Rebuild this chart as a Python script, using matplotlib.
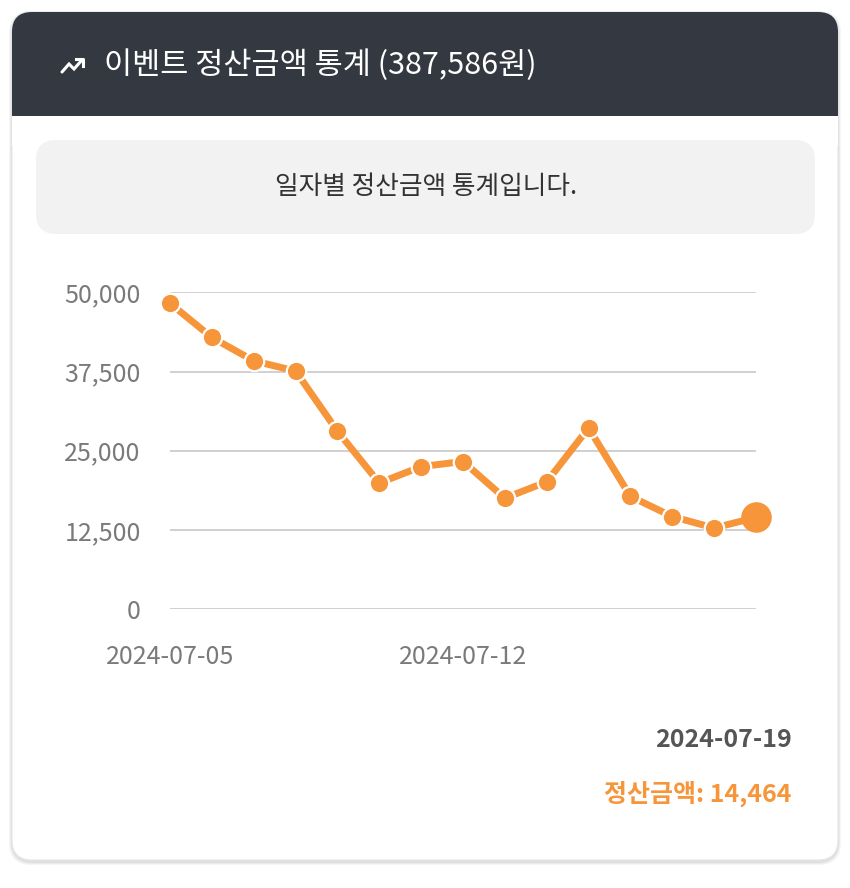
import matplotlib
matplotlib.use("Agg")
import matplotlib.pyplot as plt
from matplotlib.patches import FancyBboxPatch, Rectangle
from matplotlib.ticker import FuncFormatter

plt.rcParams['font.family'] = ['Noto Sans CJK KR', 'DejaVu Sans']

# ---- data ----
dates = ["2024-07-05", "2024-07-06", "2024-07-07", "2024-07-08", "2024-07-09",
         "2024-07-10", "2024-07-11", "2024-07-12", "2024-07-13", "2024-07-14",
         "2024-07-15", "2024-07-16", "2024-07-17", "2024-07-18", "2024-07-19"]
amounts = [48300, 42900, 39200, 37600, 28100, 19900, 22500, 23300,
           17500, 20100, 28600, 17800, 14600, 12800, 14464]
y_ticks = [0, 12500, 25000, 37500, 50000]
x_tick_labels = ["2024-07-05", "2024-07-12"]
title = "이벤트 정산금액 통계 (387,586원)"
subtitle = "일자별 정산금액 통계입니다."
tooltip_label = "정산금액"

W, H = 850, 888
ORANGE = "#f7953b"
fig = plt.figure(figsize=(W / 100, H / 100), dpi=100)
fig.patch.set_facecolor("#f7f7f7")

bg = fig.add_axes([0, 0, 1, 1])
bg.set_xlim(0, W)
bg.set_ylim(H, 0)
bg.axis("off")

# background & shadow
bg.add_patch(Rectangle((0, 0), W, H, facecolor="white", zorder=0))
for i, a in enumerate([0.04, 0.04, 0.05]):
    d = 3 - i
    bg.add_patch(FancyBboxPatch((12 - d, 12 - d + 2), 826 + 2 * d, 848 + 2 * d,
                                boxstyle="round,pad=0,rounding_size=22",
                                facecolor="black", edgecolor="none", alpha=a, zorder=1))
# card
bg.add_patch(FancyBboxPatch((12, 12), 826, 848, boxstyle="round,pad=0,rounding_size=20",
                            facecolor="white", edgecolor="#e6e6e6", lw=0.8, zorder=2))
# header
bg.add_patch(FancyBboxPatch((12, 12), 826, 130, boxstyle="round,pad=0,rounding_size=20",
                            facecolor="#343840", edgecolor="none", zorder=3))
bg.add_patch(Rectangle((12, 116), 826, 30, facecolor="white", edgecolor="none", zorder=4))

# icon (trending up)
bg.plot([62, 69, 74, 82], [72, 64, 69, 60], color="white", lw=2.2, solid_capstyle="round",
        solid_joinstyle="miter", zorder=5)
bg.plot([76, 83, 83], [59.5, 59.5, 66], color="white", lw=2.2, zorder=5)
bg.text(104, 65, title, color="white", fontsize=22, va="center", ha="left", zorder=5)

# subtitle box
bg.add_patch(FancyBboxPatch((36, 140), 779, 94, boxstyle="round,pad=0,rounding_size=20",
                            facecolor="#f2f2f3", edgecolor="none", zorder=5))
bg.text(426, 187, subtitle, color="#333333", fontsize=18.5, va="center", ha="center", zorder=6)

# tooltip-like info
bg.text(792, 740, dates[-1], color="#555555", fontsize=18, fontweight="bold",
        va="center", ha="right", zorder=6)
bg.text(792, 794, f"{tooltip_label}: {amounts[-1]:,}", color=ORANGE, fontsize=18,
        fontweight="bold", va="center", ha="right", zorder=6)

# chart
x0, x1, ytop, ybot = 170, 756, 292.5, 609
ax = fig.add_axes([x0 / W, 1 - ybot / H, (x1 - x0) / W, (ybot - ytop) / H])
ax.set_facecolor("none")
xs = list(range(len(amounts)))
ax.plot(xs, amounts, color=ORANGE, lw=5, zorder=3, clip_on=False, solid_joinstyle="round")
ax.plot(xs[:-1], amounts[:-1], "o", color=ORANGE, ms=14, mec="white", mew=1.6,
        zorder=4, clip_on=False, ls="none")
ax.plot(xs[-1:], amounts[-1:], "o", color=ORANGE, ms=22, mec="none", zorder=5,
        clip_on=False, ls="none")
ax.set_xlim(0, len(amounts) - 1)
ax.set_ylim(0, 50000)
ax.set_yticks(y_ticks)
ax.yaxis.set_major_formatter(FuncFormatter(lambda v, p: f"{int(v):,}"))
ax.set_xticks([dates.index(d) for d in x_tick_labels])
ax.set_xticklabels(x_tick_labels)
ax.grid(axis="y", color="#c8c8c8", lw=1.2)
ax.set_axisbelow(True)
for s in ax.spines.values():
    s.set_visible(False)
ax.tick_params(axis="both", length=0, colors="#7a7a7a", labelsize=18)
ax.tick_params(axis="y", pad=21)
ax.tick_params(axis="x", pad=25)

fig.savefig("out.png", dpi=100, facecolor=fig.get_facecolor())
